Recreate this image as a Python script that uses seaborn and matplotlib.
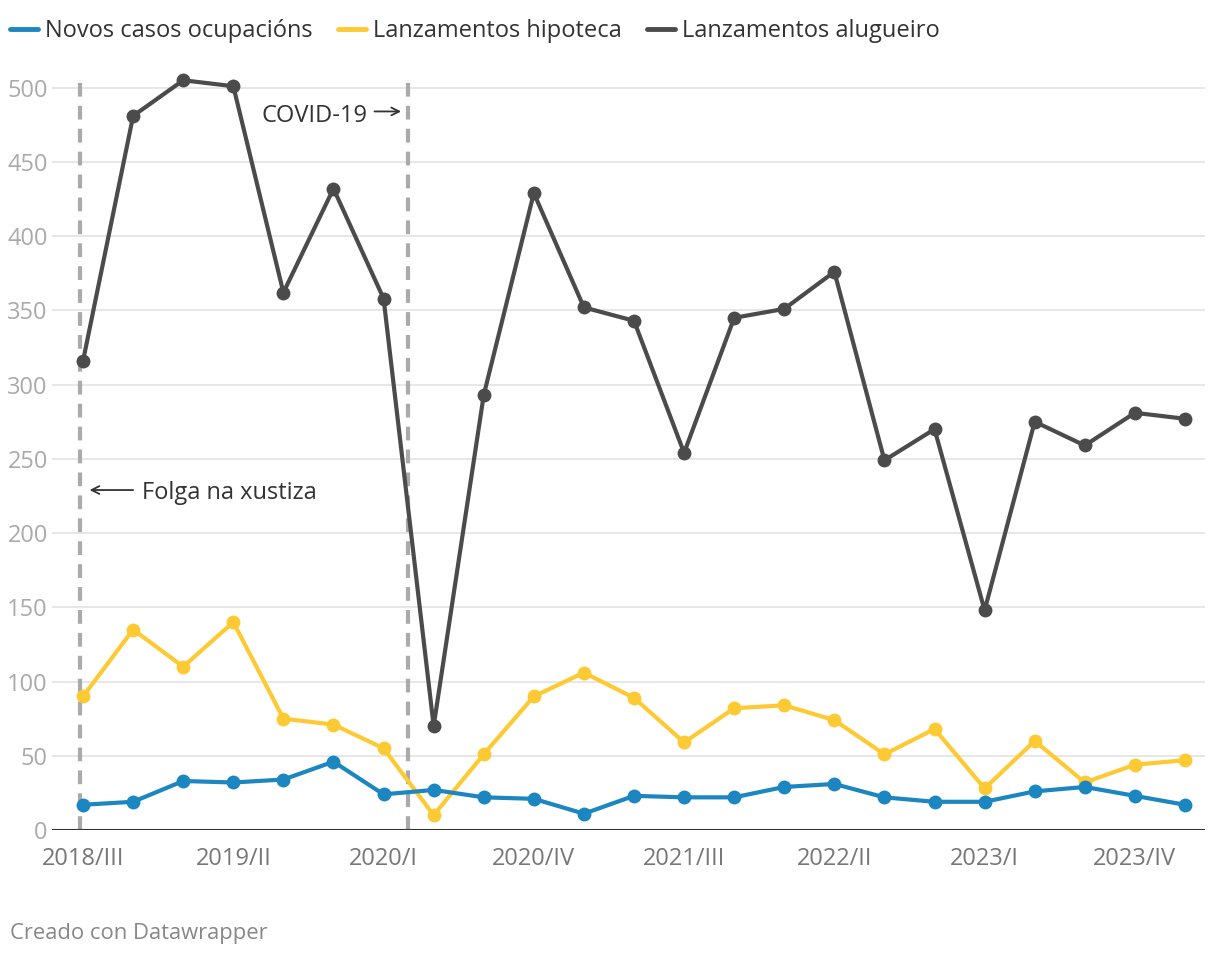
import matplotlib
matplotlib.use("Agg")
import matplotlib.pyplot as plt
import seaborn as sns
import pandas as pd
import numpy as np
from matplotlib.lines import Line2D

quarters = ["2018/III", "2018/IV",
            "2019/I", "2019/II", "2019/III", "2019/IV",
            "2020/I", "2020/II", "2020/III", "2020/IV",
            "2021/I", "2021/II", "2021/III", "2021/IV",
            "2022/I", "2022/II", "2022/III", "2022/IV",
            "2023/I", "2023/II", "2023/III", "2023/IV",
            "2024/I"]
ocupacions = [17, 19, 33, 32, 34, 46, 24, 27, 22, 21, 11, 23, 22, 22, 29, 31, 22, 19, 19, 26, 29, 23, 17]
hipoteca = [90, 135, 110, 140, 75, 71, 55, 10, 51, 90, 106, 89, 59, 82, 84, 74, 51, 68, 28, 60, 32, 44, 47]
alugueiro = [316, 481, 505, 501, 362, 432, 358, 70, 293, 429, 352, 343, 254, 345, 351, 376, 249, 270, 148, 275, 259, 281, 277]
series_names = ["Novos casos ocupacións", "Lanzamentos hipoteca", "Lanzamentos alugueiro"]
colors = ["#1b86c0", "#fdca33", "#4b4b4b"]
tick_labels = ["2018/III", "2019/II", "2020/I", "2020/IV", "2021/III", "2022/II", "2023/I", "2023/IV"]
yticks = [0, 50, 100, 150, 200, 250, 300, 350, 400, 450, 500]

sns.set_theme(style="white")
plt.rcParams['font.family'] = ['Open Sans', 'DejaVu Sans']

fig = plt.figure(figsize=(12.2, 9.58), dpi=100)
W, H = 1220, 958
ax = fig.add_axes([52 / W, 1 - 830 / H, (1205 - 52) / W, (830 - 58) / H])

idx = np.arange(len(quarters))
df = pd.DataFrame({
    "idx": np.tile(idx, 3),
    "value": ocupacions + hipoteca + alugueiro,
    "serie": np.repeat(series_names, len(quarters)),
})

for name, col, z in zip(series_names, colors, [5, 4, 3]):
    sub = df[df["serie"] == name]
    sns.lineplot(data=sub, x="idx", y="value", ax=ax, color=col, linewidth=3,
                 marker="o", markersize=10, markeredgewidth=0, zorder=z, legend=False)

ax.set_xlim(-0.62, 22.4)
ax.set_ylim(0, 520)

for yv in yticks[1:]:
    ax.axhline(yv, color="#e3e3e3", linewidth=1.2, zorder=0)
ax.axhline(0, color="#333333", linewidth=2.2, zorder=6)

for xv in [-0.06, 6.48]:
    ax.plot([xv, xv], [0, 506], color="#aaaaaa", linewidth=3, linestyle=(0, (3.3, 2.2)), zorder=2)

ax.set_yticks(yticks)
ax.set_yticklabels([str(v) for v in yticks], color="#aaaaaa", fontsize=17)
pos = [quarters.index(t) for t in tick_labels]
ax.set_xticks(pos)
ax.set_xticklabels(tick_labels, color="#777777", fontsize=17)
ax.tick_params(axis="both", length=0)
ax.tick_params(axis="y", pad=3)
ax.tick_params(axis="x", pad=12)
for s in ax.spines.values():
    s.set_visible(False)
ax.set_xlabel("")
ax.set_ylabel("")
ax.grid(False)

# annotations
ax.text(5.67, 481, "COVID-19", ha="right", va="center", fontsize=17, color="#333333")
ax.annotate("", xy=(6.35, 484), xytext=(5.82, 484),
            arrowprops=dict(arrowstyle="->", color="#333333", lw=1.3,
                            shrinkA=0, shrinkB=0, mutation_scale=14))
ax.text(1.18, 227, "Folga na xustiza", ha="left", va="center", fontsize=17, color="#333333")
ax.annotate("", xy=(0.13, 229), xytext=(1.0, 229),
            arrowprops=dict(arrowstyle="->", color="#333333", lw=1.3,
                            shrinkA=0, shrinkB=0, mutation_scale=14))

handles = [Line2D([0], [0], color=c, linewidth=3.5) for c in colors]
fig.legend(handles, series_names, loc="upper left", bbox_to_anchor=(0.0, 1 - 9 / H), ncol=3,
           frameon=False, fontsize=17, handlelength=1.2, handletextpad=0.3,
           columnspacing=1.05, labelcolor="#333333", borderaxespad=0.0,
           borderpad=0.42)

fig.text(10 / W, 1 - 934 / H, "Creado con Datawrapper", fontsize=15.8, color="#888888",
         ha="left", va="center")

fig.savefig("out.png", dpi=100, facecolor="white")
